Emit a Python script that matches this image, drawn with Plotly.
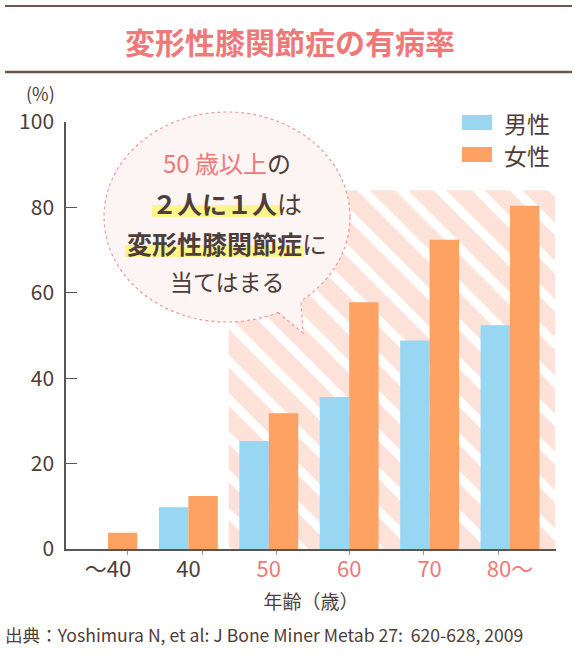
import plotly.graph_objects as go

# ---------------- data ----------------
categories = ["〜40", "40", "50", "60", "70", "80〜"]
male = [None, 9.8, 25.3, 35.6, 48.8, 52.4]
female = [3.8, 12.4, 31.8, 57.8, 72.4, 80.4]
y_ticks = [0, 20, 40, 60, 80, 100]
series_names = ["男性", "女性"]
highlight_from_index = 2      # "50" onwards is highlighted
highlight_top = 84            # top of hatched band (%)

title_text = "変形性膝関節症の有病率"
x_title = "年齢（歳）"
y_unit = "(%)"
source_text = "出典：Yoshimura N, et al: J Bone Miner Metab 27:  620-628, 2009"
bubble_lines = [
    "<span style='color:#ef7878'>50 歳以上</span>の",
    "<b>２人に１人</b>は",
    "<b>変形性膝関節症</b>に",
    "当てはまる",
]

# ---------------- style / layout ----------------
W, H = 578, 658
L, R, T, B = 66, 556, 122, 549      # plot area in pixels
X_MIN, X_MAX = -0.522, 5.572
BAR_W = 0.366
FONT = "Noto Sans CJK JP"
DARK = "#4e3d38"
PINK = "#ef7878"
BLUE = "#98d6f1"
ORANGE = "#fda263"
HATCH_BG = "#fde2d9"
AXIS = "#5a5555"


def px(x):
    return (x - L) / (R - L)


def py(y):
    return (B - y) / (B - T)


xs = list(range(len(categories)))
label_colors = [DARK if i < highlight_from_index else PINK for i in xs]
ticktext = [f"<span style='color:{c}'>{t}</span>" for t, c in zip(categories, label_colors)]

hl_left = highlight_from_index - 0.5
hl_right = X_MAX - 0.01

fig = go.Figure()
# hatched highlight band (drawn first, below bars)
fig.add_trace(go.Bar(
    x=[(hl_left + hl_right) / 2], y=[highlight_top], base=0,
    width=[hl_right - hl_left],
    marker=dict(color=HATCH_BG, line_width=0,
                pattern=dict(shape="\\", fgcolor="white", bgcolor=HATCH_BG,
                             size=27, solidity=0.33, fillmode="replace")),
    hoverinfo="skip", showlegend=False,
))
fig.add_trace(go.Bar(
    x=xs, y=male, name=series_names[0], width=BAR_W, offset=-BAR_W,
    marker=dict(color=BLUE, line_width=0), showlegend=False,
))
fig.add_trace(go.Bar(
    x=xs, y=female, name=series_names[1], width=BAR_W, offset=0,
    marker=dict(color=ORANGE, line_width=0), showlegend=False,
))

minor_tick_px = [127, 202, 276, 349, 423, 498]
unit_px = (R - L) / (X_MAX - X_MIN)
minor_ticks = [X_MIN + (p - L) / unit_px for p in minor_tick_px]

fig.update_layout(
    width=W, height=H,
    margin=dict(l=L, r=W - R, t=T, b=H - B, pad=0),
    barmode="overlay",
    paper_bgcolor="white", plot_bgcolor="white",
    font=dict(family=FONT, color=DARK),
    showlegend=False,
    xaxis=dict(
        range=[X_MIN, X_MAX], tickmode="array", tickvals=xs, ticktext=ticktext,
        ticks="", showline=True, linecolor=AXIS, linewidth=1.5,
        showgrid=False, zeroline=False, fixedrange=True,
        tickfont=dict(size=22, color=DARK),
        title=dict(text=x_title, font=dict(size=19, color=DARK), standoff=14),
        minor=dict(tickmode="array", tickvals=minor_ticks, ticks="outside",
                   ticklen=4, tickwidth=1, tickcolor="#999999", showgrid=False),
    ),
    yaxis=dict(
        range=[0, 100], tickmode="array", tickvals=y_ticks,
        ticks="inside", ticklen=11, tickwidth=1.3, tickcolor=AXIS,
        showline=True, linecolor=AXIS, linewidth=1.5,
        showgrid=False, zeroline=False, fixedrange=True,
        tickfont=dict(size=21, color=DARK), ticklabelstandoff=6,
    ),
)

shapes = []
# title rules
shapes.append(dict(type="line", xref="paper", yref="paper",
                   x0=px(5), x1=px(572), y0=py(6), y1=py(6),
                   line=dict(color="#6b5651", width=2)))
shapes.append(dict(type="line", xref="paper", yref="paper",
                   x0=px(5), x1=px(572), y0=py(72), y1=py(72),
                   line=dict(color="#6b5651", width=2.5)))
# speech bubble
BUB_FILL = "#fdf4f4"
BUB_LINE = "#f09a9a"
shapes.append(dict(type="circle", xref="paper", yref="paper",
                   x0=px(104), x1=px(350), y0=py(322), y1=py(112),
                   fillcolor=BUB_FILL, line=dict(color=BUB_LINE, width=1.2, dash="3px,3px")))
shapes.append(dict(type="path", xref="paper", yref="paper",
                   path=f"M {px(274)},{py(309)} L {px(303)},{py(333)} L {px(302)},{py(296)} Z",
                   fillcolor=BUB_FILL, line=dict(width=0)))
shapes.append(dict(type="path", xref="paper", yref="paper",
                   path=f"M {px(278)},{py(312.5)} L {px(303)},{py(333)} L {px(301)},{py(301)}",
                   line=dict(color=BUB_LINE, width=1.2, dash="3px,3px")))
# yellow highlighter marks
YEL = "#fcf68a"
shapes.append(dict(type="rect", xref="paper", yref="paper", layer="above",
                   x0=px(152), x1=px(280), y0=py(217), y1=py(205),
                   fillcolor=YEL, line=dict(width=0)))
shapes.append(dict(type="rect", xref="paper", yref="paper", layer="above",
                   x0=px(125), x1=px(304), y0=py(257), y1=py(245),
                   fillcolor=YEL, line=dict(width=0)))
# legend swatches
for col, yc in [(BLUE, 122.5), (ORANGE, 154.5)]:
    shapes.append(dict(type="rect", xref="paper", yref="paper",
                       x0=px(462), x1=px(492), y0=py(yc + 7.5), y1=py(yc - 7.5),
                       fillcolor=col, line=dict(width=0)))

annotations = []
annotations.append(dict(text=f"<b>{title_text}</b>", x=px(290), y=py(41),
                        xref="paper", yref="paper", showarrow=False,
                        xanchor="center", yanchor="middle",
                        font=dict(size=30, color=PINK, family=FONT)))
annotations.append(dict(text=y_unit, x=px(40), y=py(93), xref="paper", yref="paper",
                        showarrow=False, xanchor="center", yanchor="middle",
                        borderpad=0, font=dict(size=18, color=DARK)))
for name, yc in zip(series_names, [122.5, 154.5]):
    annotations.append(dict(text=name, x=px(502), y=py(yc), xref="paper", yref="paper",
                            showarrow=False, xanchor="left", yanchor="middle",
                            font=dict(size=23, color=DARK)))
for line, yc, fs in zip(bubble_lines, [162, 203, 243, 281], [24, 25, 25, 23]):
    annotations.append(dict(text=line, x=px(227), y=py(yc), xref="paper", yref="paper",
                            showarrow=False, xanchor="center", yanchor="middle",
                            font=dict(size=fs, color=DARK)))
annotations.append(dict(text=source_text, x=px(3), y=py(634), xref="paper", yref="paper",
                        showarrow=False, xanchor="left", yanchor="middle",
                        font=dict(size=17.6, color=DARK)))

fig.update_layout(shapes=shapes, annotations=annotations)
fig.write_html("out.html", config={"displayModeBar": False},
               post_script="document.body.style.margin='0';document.body.style.overflow='hidden';")
